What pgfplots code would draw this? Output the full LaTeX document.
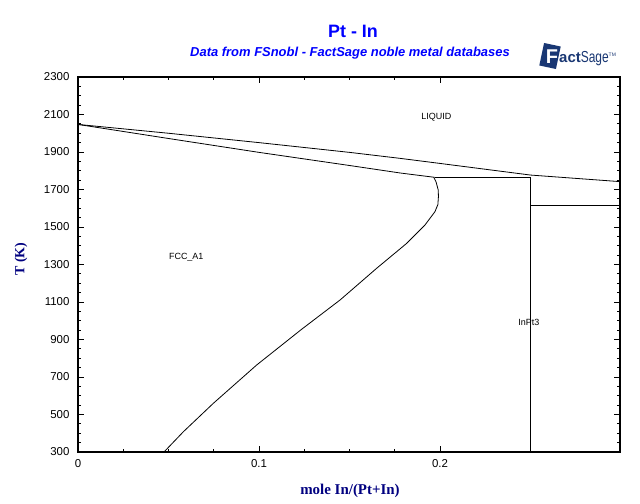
\documentclass[border=0pt]{standalone}
\usepackage{fontspec}
\setmainfont{Liberation Sans}
\newfontfamily\serifbf{Liberation Serif}
\usepackage{pgfplots}
\pgfplotsset{compat=1.18}
\definecolor{titleblue}{RGB}{0,0,255}
\definecolor{labelnavy}{RGB}{0,0,128}
\definecolor{logoblue}{RGB}{25,55,115}

\begin{document}
\begin{tikzpicture}
\path[use as bounding box] (0bp,0bp) rectangle (640bp,504bp);
\begin{axis}[
  at={(78bp,52bp)}, anchor=south west,
  scale only axis, width=542bp, height=375bp,
  xmin=0, xmax=0.2994, ymin=300, ymax=2300,
  xtick={0,0.1,0.2}, xticklabels={0,0.1,0.2},
  minor x tick num=3,
  ytick={300,500,...,2300}, minor y tick num=3,
  tick align=inside,
  major tick length=6bp, minor tick length=3bp,
  tick style={black, line width=0.8bp},
  axis line style={black, line width=1.3bp},
  /pgf/number format/assume math mode=true,
  /pgf/number format/1000 sep={},
  tick label style={font=\fontsize{11.5}{13}\selectfont},
  xticklabel style={yshift=-4bp},
  yticklabel style={xshift=-5bp},
  scaled x ticks=false,
  clip=true,
]
% liquidus
\addplot[black, line width=0.8bp] coordinates {
  (0,2047) (0.05,2000) (0.1,1950) (0.15,1898) (0.178,1866)
  (0.2,1839) (0.225,1808) (0.25,1777) (0.2994,1742)
};
% solidus of FCC_A1
\addplot[black, line width=0.8bp] coordinates {
  (0,2047) (0.05,1972) (0.1,1898) (0.15,1828) (0.178,1788) (0.197,1765)
};
% peritectic line
\addplot[black, line width=0.8bp] coordinates {(0.197,1765) (0.25,1765)};
% InPt3 line compound
\addplot[black, line width=0.8bp] coordinates {(0.25,300) (0.25,1765)};
% transformation of InPt3
\addplot[black, line width=0.8bp] coordinates {(0.25,1617) (0.2994,1617)};
% solvus of FCC_A1
\addplot[black, line width=0.8bp] coordinates {
  (0.0475,300) (0.0582,408) (0.0748,560) (0.0987,764) (0.1236,955)
  (0.1448,1111) (0.165,1280) (0.1816,1413) (0.1917,1511)
  (0.1972,1582) (0.1988,1620) (0.1991,1662) (0.199,1697) (0.1978,1740)
  (0.1965,1765)
};
\node[font=\fontsize{9}{10}\selectfont] at (axis cs:0.198,2087) {LIQUID};
\node[font=\fontsize{9}{10}\selectfont] at (axis cs:0.0598,1340) {FCC\_A1};
\node[font=\fontsize{9}{10}\selectfont] at (axis cs:0.249,993) {InPt3};
\end{axis}
\node[text=titleblue, font=\fontsize{18}{20}\selectfont\bfseries] at (353bp,473bp) {Pt - In};
\node[text=titleblue, font=\fontsize{13}{15}\selectfont\bfseries\itshape] at (350bp,451bp)
  {Data from FSnobl - FactSage noble metal databases};
\node[text=labelnavy, font=\serifbf\fontsize{14}{16}\selectfont\bfseries, rotate=90] at (21bp,245bp) {T (K)};
\node[text=labelnavy, font=\serifbf\fontsize{15}{17}\selectfont\bfseries] at (350bp,13bp) {mole In/(Pt+In)};
% FactSage logo
\node[fill=logoblue, rotate=-12, minimum width=17bp, minimum height=23bp, inner sep=0pt] at (550bp,448bp) {};
\node[text=white, font=\fontsize{20}{20}\selectfont\bfseries, inner sep=0pt] at (552bp,447bp) {F};
\node[text=logoblue, anchor=west, inner sep=0pt] at (559bp,445bp)
  {{\fontsize{15}{15}\selectfont\bfseries act}\scalebox{0.75}[1]{\fontsize{16}{16}\selectfont Sage}\raisebox{6bp}{\fontsize{5}{5}\selectfont TM}};
\end{tikzpicture}
\end{document}
